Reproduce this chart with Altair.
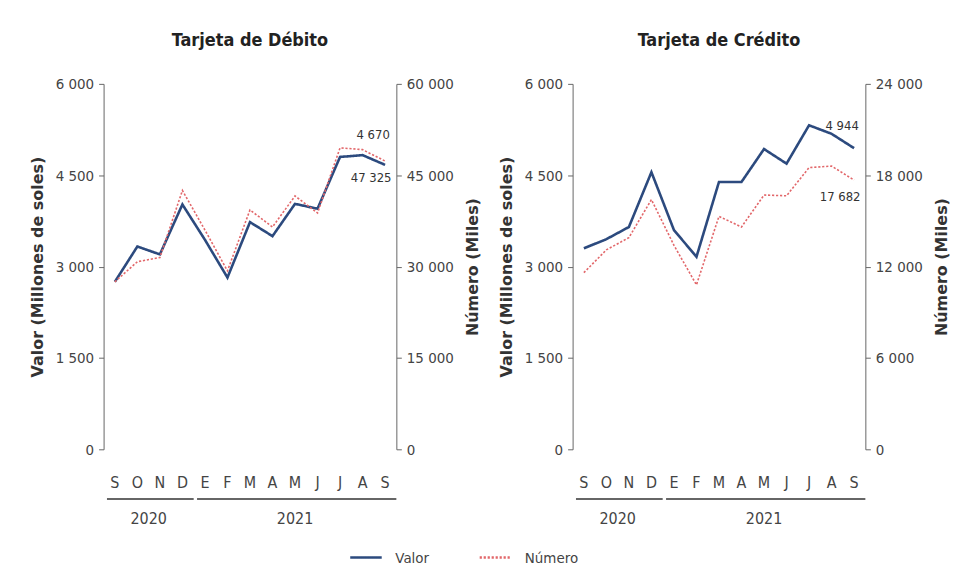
import altair as alt
import pandas as pd

# ---- data ----
meses = ["S", "O", "N", "D", "E", "F", "M", "A", "M", "J", "J", "A", "S"]
anios = ["2020", "2021"]
anio_primer_mes = [0, 4]
anio_ultimo_mes = [3, 12]

valor_debito = [2750, 3330, 3200, 4020, 3440, 2820, 3730, 3500, 4030, 3950, 4800, 4830, 4670]
numero_debito = [27500, 30800, 31500, 42500, 36000, 29300, 39300, 36500, 41600, 38800, 49500, 49200, 47325]

valor_credito = [3300, 3450, 3650, 4550, 3600, 3160, 4390, 4390, 4930, 4690, 5320, 5180, 4944]
numero_credito = [11600, 13100, 13900, 16400, 13400, 10800, 15300, 14600, 16700, 16650, 18500, 18600, 17682]

series = ["Valor", "Número"]
BLUE = "#2C4A7E"
RED = "#E2676A"

W = 294
H = 367
NARROW = "Liberation Sans Narrow, DejaVu Sans Condensed, sans-serif"
BOLDWIDE = "DejaVu Sans, Verdana, sans-serif"
LBL = "replace(format(datum.value, ','), ',', ' ')"

color_scale = alt.Scale(domain=series, range=[BLUE, RED])
dash_scale = alt.Scale(domain=series, range=[[1, 0], [2.2, 1.8]])
legend = alt.Legend(
    title=None, orient="none", legendX=246, legendY=458, direction="horizontal",
    symbolType="stroke", symbolSize=1000, symbolStrokeWidth=2.5,
    labelFont=NARROW, labelFontSize=15, labelColor="#444", columnPadding=45, labelOffset=12,
)


def panel(titulo, valor, numero, right_max, right_step, dy_valor):
    df = pd.DataFrame({"i": list(range(len(meses))), "mes": meses, "valor": valor, "numero": numero})
    years = pd.DataFrame({"anio": anios, "first": anio_primer_mes, "last": anio_ultimo_mes})
    xscale = alt.Scale(domain=[-0.5, len(meses) - 0.5], nice=False, zero=False)
    vscale = alt.Scale(domain=[0, 6000], nice=False)
    nscale = alt.Scale(domain=[0, right_max], nice=False)

    base = alt.Chart(df)
    line_v = base.transform_calculate(serie="'Valor'").mark_line(strokeWidth=2.6).encode(
        x=alt.X("i:Q", scale=xscale, axis=alt.Axis(
            values=[k - 0.5 for k in range(len(meses) + 1)], labels=False, title=None,
            tickSize=8, grid=False, domainColor="#666", tickColor="#666", domainWidth=1.2)),
        y=alt.Y("valor:Q", scale=vscale, axis=alt.Axis(
            orient="left", values=[0, 1500, 3000, 4500, 6000], labelExpr=LBL,
            title="Valor (Millones de soles)", titleFont=BOLDWIDE, titleFontSize=16,
            titleFontWeight="bold", titleColor="#333", titlePadding=10,
            labelFont=NARROW, labelFontSize=15, labelColor="#444", labelPadding=5,
            tickSize=5, grid=False, domainColor="#666", tickColor="#666")),
        color=alt.Color("serie:N", scale=color_scale, legend=legend),
        strokeDash=alt.StrokeDash("serie:N", scale=dash_scale, legend=legend),
    )
    line_n = base.transform_calculate(serie="'Número'").mark_line(strokeWidth=1.6).encode(
        x=alt.X("i:Q", scale=xscale, axis=None),
        y=alt.Y("numero:Q", scale=nscale, axis=alt.Axis(
            orient="right", values=list(range(0, right_max + 1, right_step)), labelExpr=LBL,
            title="Número (Miles)", titleFont=BOLDWIDE, titleFontSize=16, titleAngle=270,
            titleFontWeight="bold", titleColor="#333", titlePadding=27,
            labelFont=NARROW, labelFontSize=15, labelColor="#444", labelPadding=5,
            tickSize=5, grid=False, domainColor="#666", tickColor="#666")),
        color=alt.Color("serie:N", scale=color_scale, legend=legend),
        strokeDash=alt.StrokeDash("serie:N", scale=dash_scale, legend=legend),
    )
    last = base.transform_filter(alt.datum.i == len(meses) - 1)
    lab_v = last.transform_calculate(t=LBL.replace("datum.value", "datum.valor")).mark_text(
        font=NARROW, fontSize=13, color="#333", dx=-12, dy=dy_valor).encode(
        x=alt.X("i:Q", scale=xscale, axis=None),
        y=alt.Y("valor:Q", scale=vscale, axis=None), text="t:N")
    lab_n = last.transform_calculate(t=LBL.replace("datum.value", "datum.numero")).mark_text(
        font=NARROW, fontSize=13, color="#333", dx=-14, dy=17).encode(
        x=alt.X("i:Q", scale=xscale, axis=None),
        y=alt.Y("numero:Q", scale=nscale, axis=None), text="t:N")
    months = base.mark_text(font=NARROW, fontSize=16, color="#444", baseline="middle").encode(
        x=alt.X("i:Q", scale=xscale, axis=None), y=alt.value(H + 34), text="mes:N")
    yb = alt.Chart(years)
    rules = yb.transform_calculate(a="datum.first - 0.35", b="datum.last + 0.5").mark_rule(
        color="#666", strokeWidth=2).encode(
        x=alt.X("a:Q", scale=xscale, axis=None), x2="b:Q", y=alt.value(H + 50))
    ytext = yb.transform_calculate(m="(datum.first + datum.last) / 2").mark_text(
        font=NARROW, fontSize=16, color="#444", baseline="middle").encode(
        x=alt.X("m:Q", scale=xscale, axis=None), y=alt.value(H + 70), text="anio:N")

    return alt.layer(line_v, line_n, lab_v, lab_n, months, rules, ytext).resolve_scale(
        y="independent").properties(
        width=W, height=H,
        title=alt.TitleParams(titulo, font=NARROW, fontSize=18, fontWeight="bold",
                              color="#222", anchor="middle", frame="group", offset=27))


chart = alt.hconcat(
    panel("Tarjeta de Débito", valor_debito, numero_debito, 60000, 15000, -30),
    panel("Tarjeta de Crédito", valor_credito, numero_credito, 24000, 6000, -22),
    spacing=16,
).properties(
    padding={"left": 20, "top": 22, "right": 0, "bottom": 0}
).configure_view(stroke="transparent")

chart.save("out.html", embed_options={"renderer": "svg", "actions": False})
